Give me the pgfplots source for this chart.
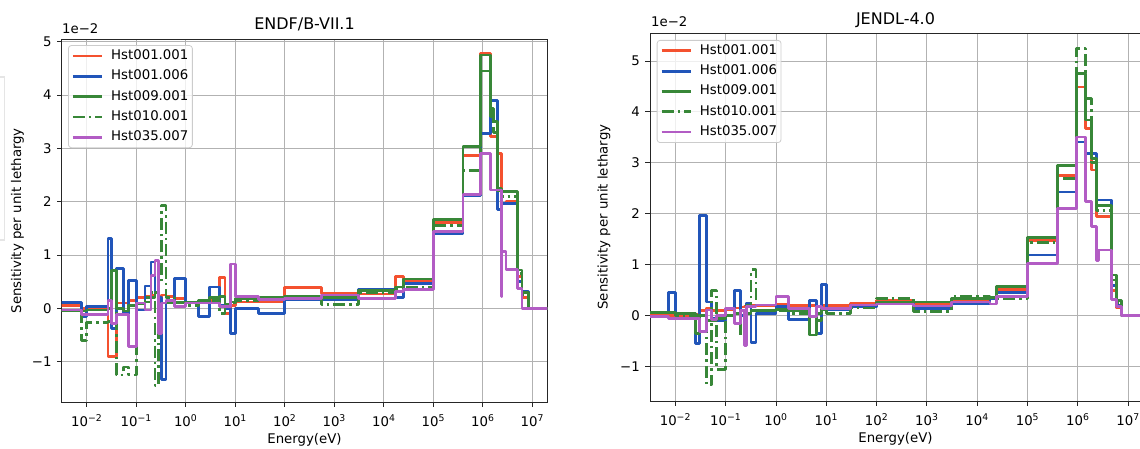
\documentclass[border=0pt]{standalone}
\usepackage{fontspec}
\setmainfont{DejaVu Sans}
\usepackage{pgfplots}
\usepackage{pgfplotstable}
\pgfplotsset{compat=1.18}

\definecolor{cRed}{RGB}{244,81,47}
\definecolor{cBlue}{RGB}{33,85,185}
\definecolor{cGreen}{RGB}{56,135,56}
\definecolor{cPurple}{RGB}{178,92,196}

% Sensitivity per unit lethargy (units of 1e-2); each row holds from E up to the next E
\pgfplotstableread{
E       r      b      g      gd     p
1e-3    0.06   0.11   -0.05  -0.05  -0.03
8e-3    0.0    -0.16  -0.05  -0.6   -0.12
1e-2    -0.02  0.03   -0.03  -0.27  -0.12
2.7e-2  -0.9   1.31   0.0    -0.25  0.15
3.2e-2  -0.9   -0.38  0.71   0.7    -0.28
4e-2    0.1    0.75   0.0    -1.25  -0.12
5.5e-2  0.1    -0.09  -0.05  -1.1   -0.12
7e-2    0.15   0.52   0.05   -1.25  -0.71
0.1     0.2    -0.03  0.08   0.1    0.1
0.15    0.22   0.42   0.12   0.2    -0.03
0.2     0.25   0.87   0.2    0.3    0.62
0.24    0.3    0.3    0.3    -1.45  0.9
0.28    -0.12  0.2    0.05   0.5    -0.47
0.33    0.25   -1.34  0.1    1.93   0.1
0.4     0.22   0.12   0.1    0.2    0.15
0.6     0.18   0.56   0.12   0.1    0.03
1.0     0.12   0.1    0.12   0.05   0.1
1.8     0.1    -0.15  0.15   0.1    0.1
3.0     0.15   0.4    0.2    0.15   0.1
4.9     0.58   0.05   0.22   -0.1   0.03
6.2     -0.1   0.0    0.08   0.05   0.03
7.9     0.05   -0.47  0.12   0.1    0.83
10.2    0.12   0.0    0.18   0.15   0.22
30      0.12   -0.1   0.2    0.2    0.16
100     0.39   0.17   0.22   0.2    0.19
550     0.28   0.16   0.2    0.07   0.25
3.1e3   0.27   0.36   0.33   0.3    0.19
1.7e4   0.59   0.2    0.4    0.35   0.31
2.5e4   0.5    0.47   0.55   0.39   0.36
1e5     1.61   1.41   1.67   1.55   1.44
4e5     2.86   2.11   3.03   2.58   2.14
9e5     4.78   3.28   4.75   4.45   2.91
1.45e6  3.22   3.9    3.75   3.6    2.22
1.65e6  3.22   3.9    3.5    3.3    2.22
2e6     2.9    1.85   2.25   2.2    2.22
2.35e6  1.97   1.9    2.19   2.1    0.22
2.45e6  1.97   1.97   2.19   2.1    1.06
2.95e6  2.0    1.97   2.19   2.1    0.73
5.1e6   0.6    0.5    0.72   0.65   0.37
6.2e6   0.2    0.31   0.3    0.25   0.0
8.3e6   0.0    0.0    0.0    0.0    0.0
3e7     0.0    0.0    0.0    0.0    0.0
}\endf

\pgfplotstableread{
E       r      b      g      gd     p
1e-3    0.0    0.07   0.07   0.07   -0.02
7.4e-3  0.0    0.46   0.07   0.07   -0.05
1e-2    0.0    0.05   0.05   0.0    -0.05
2.5e-2  0.02   -0.54  -0.35  0.0    -0.05
3e-2    0.1    1.97   0.0    0.0    -0.31
4.1e-2  0.15   0.27   -0.1   -1.36  0.11
5.2e-2  0.1    -0.05  -0.1   0.49   -0.08
6.5e-2  0.1    -0.1   -0.05  -1.05  0.0
0.1     0.12   0.0    0.0    0.0    0.14
0.15    0.15   0.49   0.05   0.05   -0.15
0.2     0.17   0.0    0.1    -0.4   0.1
0.24    0.18   0.0    -0.1   -0.4   -0.58
0.26    0.2    0.25   0.05   0.2    0.18
0.32    0.2    -0.52  0.1    0.9    0.18
0.4     0.2    0.05   0.1    0.1    0.21
1.0     0.22   0.18   0.12   0.1    0.37
1.8     0.2    -0.07  0.1    0.05   0.14
4.6     0.2    0.3    -0.38  0.05   -0.02
6.3     0.19   -0.35  0.05   -0.1   0.18
8.0     0.2    0.62   0.12   0.1    0.14
10.2    0.2    0.12   0.15   0.05   0.14
30      0.24   0.17   0.21   0.15   0.21
100     0.3    0.24   0.27   0.34   0.23
540     0.24   0.14   0.27   0.08   0.19
3.1e3   0.31   0.24   0.34   0.37   0.27
1.8e4   0.33   0.34   0.36   0.35   0.23
2.4e4   0.52   0.45   0.58   0.33   0.37
1e5     1.47   1.19   1.54   1.44   1.03
3.9e5   2.76   2.43   2.95   2.69   2.1
9.3e5   4.49   3.41   4.76   5.24   3.51
1.42e6  3.67   3.18   3.84   4.26   2.24
1.85e6  2.86   3.18   3.08   3.0    1.75
2.33e6  1.94   2.27   2.17   2.07   1.09
2.63e6  1.94   2.27   2.17   2.07   1.29
4.6e6   0.5    0.6    0.8    0.7    0.31
5.8e6   0.15   0.2    0.3    0.25   0.18
7.4e6   0.0    0.0    0.0    0.0    0.0
3e7     0.0    0.0    0.0    0.0    0.0
}\jendl

\newcommand{\basefont}{\fontsize{13.3}{16}\selectfont}
\newcommand{\titlefont}{\fontsize{16}{19}\selectfont}

% settings shared by both panels
\pgfplotsset{
  scale only axis,
  grid=major,
  major grid style={draw=black!30, line width=0.9pt},
  axis line style={black!85, line width=0.9pt},
  tick pos=left, tick align=outside,
  major tick length=4.7pt,
  every tick/.style={black!85, line width=0.9pt},
  ticklabel style={font=\basefont},
  xticklabel shift=4pt,
  yticklabel shift=2pt,
  legend cell align=left,
  legend image code/.code={\draw[#1] (0pt,0pt) -- (29pt,0pt);},
  every axis plot/.append style={line width=2.8pt, line join=round, const plot mark left, no markers},
  dd/.style={dash pattern=on 12pt off 4pt on 2.5pt off 4pt},
}

\begin{document}
\begin{tikzpicture}
\path[use as bounding box] (0,0) rectangle (1140pt,449pt);
\draw[black!10, line width=1.2pt] (0,372pt) -- (4.5pt,372pt) -- (4.5pt,209pt) -- (0,209pt);

% ENDF/B-VII.1
\begin{axis}[name=ax1, at={(61.7pt,47pt)}, anchor=south west,
  width=485.6pt, height=362.7pt,
  xmode=log, log basis x=10,
  xmin=3.13e-3, xmax=2.01e7, ymin=-1.757, ymax=5.045,
  xtick={1e-2,1e-1,1,1e1,1e2,1e3,1e4,1e5,1e6,1e7},
  ytick={-1,0,1,2,3,4,5},
  scaled y ticks=false,
  xticklabel={\pgfmathtruncatemacro{\ex}{round(\tick)}10\textsuperscript{\ifnum\ex<0 −\the\numexpr-\ex\relax\else\ex\fi}},
  yticklabel={\pgfmathtruncatemacro{\yv}{round(\tick)}\ifnum\yv<0 −\the\numexpr-\yv\relax\else\yv\fi},
  legend style={at={(0.013,0.984)}, anchor=north west, draw=black!20, line width=0.8pt,
    rounded corners=3pt, fill=white, fill opacity=0.8, text opacity=1,
    font=\basefont, inner sep=3pt, row sep=5.3pt,
    nodes={inner sep=1pt, text height=10pt, text depth=3pt},
    /tikz/every odd column/.append style={column sep=7pt}}]
\addplot[cRed] table[x=E, y=r] {\endf};
\addlegendentry{Hst001.001}
\addplot[cBlue] table[x=E, y=b] {\endf};
\addlegendentry{Hst001.006}
\addplot[cGreen] table[x=E, y=g] {\endf};
\addlegendentry{Hst009.001}
\addplot[cGreen, dd] table[x=E, y=gd] {\endf};
\addlegendentry{Hst010.001}
\addplot[cPurple] table[x=E, y=p] {\endf};
\addlegendentry{Hst035.007}
\end{axis}

% JENDL-4.0
\begin{axis}[name=ax2, at={(650pt,48pt)}, anchor=south west,
  width=493.3pt, height=368pt,
  xmode=log, log basis x=10,
  xmin=3.13e-3, xmax=2.01e7, ymin=-1.675, ymax=5.55,
  xtick={1e-2,1e-1,1,1e1,1e2,1e3,1e4,1e5,1e6,1e7},
  ytick={-1,0,1,2,3,4,5},
  scaled y ticks=false,
  xticklabel={\pgfmathtruncatemacro{\ex}{round(\tick)}10\textsuperscript{\ifnum\ex<0 −\the\numexpr-\ex\relax\else\ex\fi}},
  yticklabel={\pgfmathtruncatemacro{\yv}{round(\tick)}\ifnum\yv<0 −\the\numexpr-\yv\relax\else\yv\fi},
  legend style={at={(0.0136,0.981)}, anchor=north west, draw=black!20, line width=0.8pt,
    rounded corners=3pt, fill=white, fill opacity=0.8, text opacity=1,
    font=\basefont, inner sep=3pt, row sep=5.3pt,
    nodes={inner sep=1pt, text height=10pt, text depth=3pt},
    /tikz/every odd column/.append style={column sep=7pt}}]
\addplot[cRed] table[x=E, y=r] {\jendl};
\addlegendentry{Hst001.001}
\addplot[cBlue] table[x=E, y=b] {\jendl};
\addlegendentry{Hst001.006}
\addplot[cGreen] table[x=E, y=g] {\jendl};
\addlegendentry{Hst009.001}
\addplot[cGreen, dd] table[x=E, y=gd] {\jendl};
\addlegendentry{Hst010.001}
\addplot[cPurple] table[x=E, y=p] {\jendl};
\addlegendentry{Hst035.007}
\end{axis}

% titles, offsets and axis labels
\node[anchor=base, font=\titlefont, inner sep=0pt] at (304.5pt,419.7pt) {ENDF/B-VII.1};
\node[anchor=base, font=\titlefont, inner sep=0pt] at (895.5pt,424pt) {JENDL-4.0};
\node[anchor=base west, font=\basefont, inner sep=0pt] at (62pt,415.7pt) {1e−2};
\node[anchor=base west, font=\basefont, inner sep=0pt] at (651pt,422.3pt) {1e−2};
\node[rotate=90, font=\basefont, inner sep=0pt] at (17.5pt,228.3pt) {Sensitivity per unit lethargy};
\node[rotate=90, font=\basefont, inner sep=0pt] at (604pt,232pt) {Sensitivity per unit lethargy};
\node[anchor=base, font=\basefont, inner sep=0pt] at (304.5pt,5pt) {Energy(eV)};
\node[anchor=base, font=\basefont, inner sep=0pt] at (895.5pt,6pt) {Energy(eV)};
\end{tikzpicture}
\end{document}
